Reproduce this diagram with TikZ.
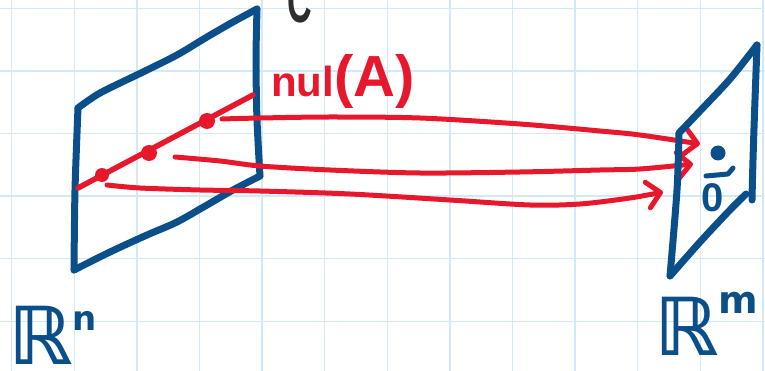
\documentclass[tikz,border=0pt]{standalone}
\usepackage{amssymb}
\usepackage{fontspec}
\setmainfont{Liberation Sans}
\newfontfamily\dvfont{DejaVu Sans}
\usetikzlibrary{arrows.meta}
\definecolor{penblue}{RGB}{10,79,138}
\definecolor{penred}{RGB}{232,24,44}
\definecolor{pengray}{RGB}{45,45,45}
\definecolor{gridblue}{RGB}{212,233,248}
\tikzset{
  gridline/.style={draw=gridblue, line width=1.4pt},
  blueline/.style={draw=penblue, line width=7pt, line cap=round, line join=round},
  bluethin/.style={draw=penblue, line width=5pt, line cap=round, line join=round},
  redline/.style={draw=penred, line width=5.5pt, line cap=round},
  redarrow/.style={draw=penred, line width=5pt, line cap=round, line join=round,
    -{Straight Barb[length=13pt,width=26pt,line cap=round,line join=round]}},
  reddot/.style={fill=penred},
  bluedot/.style={fill=penblue},
  redlabel/.style={text=penred, inner sep=0pt, font=\bfseries},
  bluelabel/.style={text=penblue, inner sep=0pt},
}
\begin{document}
\begin{tikzpicture}[x=1pt,y=-1pt]
\useasboundingbox (0,0) rectangle (765,371);
\clip (0,0) rectangle (765,371);
\fill[white] (0,0) rectangle (765,371);
% grid
\foreach \k in {0,...,12} {\draw[gridline] ({11.7+62.6*\k},0) -- ({11.7+62.6*\k},371);}
\foreach \k in {0,...,5} {\draw[gridline] (0,{8.3+62.6*\k}) -- (765,{8.3+62.6*\k});}

% left plane corners
\coordinate (LTL) at (78,108);
\coordinate (LTR) at (257,9);
\coordinate (LBR) at (260,176);
\coordinate (LBL) at (74,270);
\draw[blueline] plot[smooth, tension=0.5] coordinates {(LTL) (100,93) (143,72) (177,55) (207,37) (233,22) (LTR)};
\draw[blueline] plot[smooth, tension=0.5] coordinates {(LTR) (256,60) (257,120) (LBR)};
\draw[blueline] plot[smooth, tension=0.5] coordinates {(LBR) (233,190) (207,205) (177,222) (147,235) (110,252) (LBL)};
\draw[blueline] plot[smooth, tension=0.5] coordinates {(LBL) (75,190) (LTL)};

% null space line
\coordinate (N0) at (78,188);
\coordinate (N1) at (253,95);
\draw[redline] (N0) -- (N1);
\fill[reddot] (102,175) circle (7);
\fill[reddot] (149,153) circle (8);
\fill[reddot] (207,121) circle (8);

% arrows
\coordinate (A1s) at (222,119);
\coordinate (A1e) at (700,144);
\coordinate (A2s) at (175,157);
\coordinate (A2e) at (693,164);
\coordinate (A3s) at (107,185);
\coordinate (A3e) at (663,192);
\draw[redarrow] plot[smooth, tension=0.5] coordinates {(A1s) (260,118) (330,117) (420,118) (520,124) (600,131) (640,135) (A1e)};
\draw[redarrow] plot[smooth, tension=0.5] coordinates {(A2s) (220,161) (260,166) (330,170) (420,173) (520,172) (600,170) (640,169) (A2e)};
\draw[redarrow] plot[smooth, tension=0.5] coordinates {(A3s) (140,188) (200,190) (260,191) (350,194) (450,200) (530,205) (580,204) (630,198) (A3e)};

% zero vector
\coordinate (Z) at (718,153);
\fill[bluedot] (Z) circle (7.5);
\node[bluelabel, anchor=base, font=\bfseries\fontsize{40}{40}\selectfont] (zlab) at (713,212) {0};
\draw[bluethin] (706,176) -- (728,174) -- (733,168);

% labels
\node[redlabel, anchor=base west] (nul) at (271,97)
  {\fontsize{42}{42}\selectfont nul\fontsize{58}{58}\selectfont(A)};
\node[overlay, text=pengray, inner sep=0pt, anchor=base west, font=\bfseries\fontsize{62}{62}\selectfont] (clab) at (287,23) {\scalebox{0.55}[1]{C}};
\node[overlay, bluelabel, anchor=base west] (rn) at (8,364)
  {\dvfont\bfseries\fontsize{80}{80}\selectfont ℝ\raisebox{34pt}{\fontsize{34}{34}\selectfont n}};
\node[overlay, bluelabel, anchor=base west] (rm) at (654,355)
  {\dvfont\bfseries\fontsize{80}{80}\selectfont ℝ\raisebox{42pt}{\fontsize{38}{38}\selectfont m}};

% right plane (drawn last)
\coordinate (RTL) at (679,133);
\coordinate (RTR) at (757,45);
\coordinate (RBR) at (752,200);
\coordinate (RBL) at (670,276);
\coordinate (RBE) at (746,194);
\draw[blueline] plot[smooth, tension=0.5] coordinates {(RTL) (677,190) (RBL)};
\draw[blueline] plot[smooth, tension=0.5] coordinates {(RTL) (700,111) (730,79) (RTR)};
\draw[blueline] plot[smooth, tension=0.5] coordinates {(RBL) (700,242) (728,212) (RBE)};
\draw[blueline] (RTR) .. controls (755,100) and (753,150) .. (RBR);
\end{tikzpicture}
\end{document}
